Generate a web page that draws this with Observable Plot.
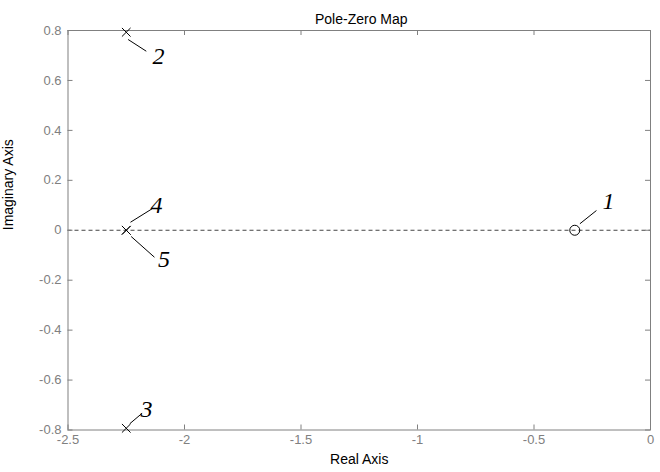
<!DOCTYPE html>
<html>
<head>
<meta charset="utf-8">
<script src="https://cdn.jsdelivr.net/npm/d3@7"></script>
<script src="https://cdn.jsdelivr.net/npm/@observablehq/plot@0.6"></script>
<style>
  html, body { margin: 0; padding: 0; background: white; }
</style>
</head>
<body>
<div id="chart"></div>
<script>
// Poles (×) and zeros (○)
const poleRe = [-2.25, -2.25, -2.25, -2.25];
const poleIm = [0.793, -0.793, 0, 0];
const zeroRe = [-0.325];
const zeroIm = [0];

// Numbered annotations (data coordinates) and their leader lines
const noteText = ["1", "2", "3", "4", "5"];
const noteX = [-0.180, -2.112, -2.163, -2.120, -2.088];
const noteY = [0.114, 0.695, -0.719, 0.098, -0.118];
const leadX1 = [-0.303, -2.242, -2.235, -2.232, -2.229];
const leadY1 = [0.026, 0.764, -0.775, 0.032, -0.025];
const leadX2 = [-0.232, -2.164, -2.182, -2.139, -2.129];
const leadY2 = [0.079, 0.717, -0.733, 0.086, -0.108];

// Ticks
const xTicks = [-2.5, -2, -1.5, -1, -0.5, 0];
const xTickLabels = ["-2.5", "-2", "-1.5", "-1", "-0.5", "0"];
const yTicks = [0.8, 0.6, 0.4, 0.2, 0, -0.2, -0.4, -0.6, -0.8];
const yTickLabels = ["0.8", "0.6", "0.4", "0.2", "0", "-0.2", "-0.4", "-0.6", "-0.8"];

const titleText = "Pole-Zero Map";
const xLabel = "Real Axis";
const yLabel = "Imaginary Axis";

const poles = poleRe.map((re, i) => ({re, im: poleIm[i]}));
const zeros = zeroRe.map((re, i) => ({re, im: zeroIm[i]}));
const notes = noteText.map((t, i) => ({t, x: noteX[i], y: noteY[i], x1: leadX1[i], y1: leadY1[i], x2: leadX2[i], y2: leadY2[i]}));
const xt = xTicks.map((v, i) => ({v, s: xTickLabels[i]}));
const yt = yTicks.map((v, i) => ({v, s: yTickLabels[i]}));

const W = 660, H = 472;
const mL = 67.5, mR = 10, mT = 30, mB = 42.5;
const innerH = H - mT - mB;
const innerW = W - mL - mR;
const tickLen = 5;
const gray = "#808080";
const sans = "'Liberation Sans', Arial, Helvetica, sans-serif";
const serif = "'Liberation Serif', 'Times New Roman', serif";

const chart = Plot.plot({
  width: W,
  height: H,
  marginLeft: mL,
  marginRight: mR,
  marginTop: mT,
  marginBottom: mB,
  x: {domain: [-2.5, 0], axis: null},
  y: {domain: [-0.8, 0.8], axis: null},
  style: {background: "white", fontFamily: sans},
  marks: [
    // dashed zero line
    Plot.ruleY([0], {stroke: "#444", strokeWidth: 1, strokeDasharray: "4,3"}),
    // inward tick marks on all four sides
    Plot.ruleX(xTicks, {x: d => d, insetTop: innerH - tickLen, stroke: gray}),
    Plot.ruleX(xTicks, {x: d => d, insetBottom: innerH - tickLen, stroke: gray}),
    Plot.ruleY(yTicks, {y: d => d, insetRight: innerW - tickLen, stroke: gray}),
    Plot.ruleY(yTicks, {y: d => d, insetLeft: innerW - tickLen, stroke: gray}),
    Plot.frame({stroke: gray}),
    // tick labels
    Plot.text(xt, {x: "v", text: "s", frameAnchor: "bottom", dy: 13.6, fill: gray, fontSize: 13}),
    Plot.text(yt, {y: "v", text: "s", frameAnchor: "left", textAnchor: "end", dx: -6.5, fill: gray, fontSize: 13}),
    // axis labels and title
    Plot.text([xLabel], {text: d => d, frameAnchor: "bottom", dy: 34.3, fill: "black", fontSize: 14}),
    Plot.text([yLabel], {text: d => d, frameAnchor: "left", rotate: -90, dx: -59, fill: "black", fontSize: 14}),
    Plot.text([titleText], {text: d => d, frameAnchor: "top", dy: -16.5, dx: 2, fill: "black", fontSize: 14}),
    // leader lines and numbers
    Plot.link(notes, {x1: "x1", y1: "y1", x2: "x2", y2: "y2", stroke: "black", strokeWidth: 1}),
    Plot.text(notes, {x: "x", y: "y", text: "t", fontFamily: serif, fontStyle: "italic", fontSize: 24, fill: "black"}),
    // poles and zeros
    Plot.dot(poles, {x: "re", y: "im", symbol: "times", r: 4, stroke: "black", strokeWidth: 1}),
    Plot.dot(zeros, {x: "re", y: "im", symbol: "circle", r: 5, stroke: "black", fill: "none", strokeWidth: 1})
  ]
});
document.getElementById("chart").appendChild(chart);
</script>
</body>
</html>
